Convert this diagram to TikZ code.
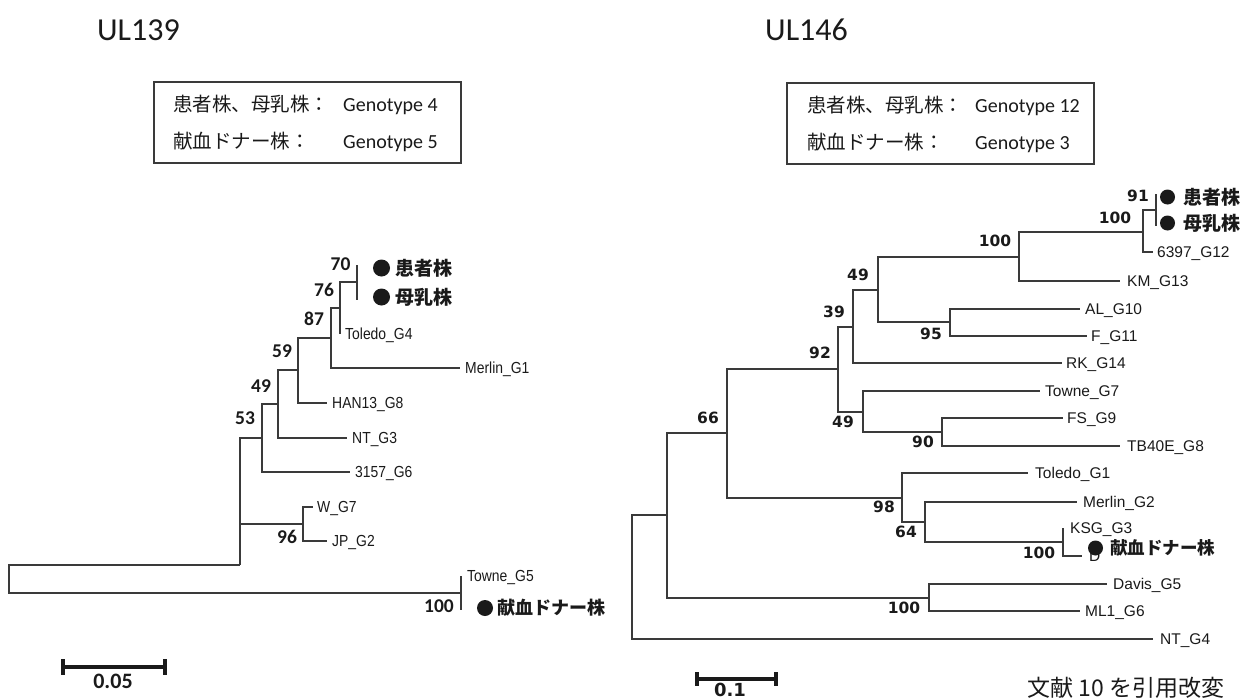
\documentclass[tikz,border=0pt]{standalone}
\usepackage{fontspec}
\setmainfont{Liberation Sans}
\newfontfamily\narrowfont{Liberation Sans}[FakeStretch=0.87]
\newfontfamily\calfont{Carlito}
\newfontfamily\dvsfont{DejaVu Sans}
\newfontfamily\jpfont{Noto Sans CJK JP}
\newcommand\fsz[1]{\fontsize{#1}{#1}\selectfont}
\definecolor{ln}{HTML}{3A3A3A}
\definecolor{tx}{HTML}{1A1A1A}
\tikzset{
  br/.style={draw=ln, line width=1.3pt},
  lleaf/.style={anchor=base west, inner sep=0pt, text=tx, font=\narrowfont\fsz{16}, yshift=-5.7pt},
  rleaf/.style={anchor=base west, inner sep=0pt, text=tx, font=\fsz{15.5}, yshift=-5.5pt},
  bsl/.style={inner sep=0pt, text=tx, font=\calfont\bfseries\fsz{19.5}},
  bsr/.style={inner sep=0pt, text=tx, font=\dvsfont\bfseries\fsz{15.5}},
  jplab/.style={anchor=west, inner sep=0pt, text=tx, font=\jpfont\bfseries\fsz{19}},
  dot/.style={circle, fill=tx, inner sep=0pt},
  boxst/.style={draw=ln, line width=1.2pt, inner sep=0pt},
  boxjp/.style={anchor=base west, inner sep=0pt, text=tx, font=\jpfont\fsz{19.5}},
  boxgt/.style={anchor=base west, inner sep=0pt, text=tx, font=\calfont\fsz{20}},
  sbar/.style={draw=tx, line width=4pt},
  title/.style={anchor=base west, inner sep=0pt, text=tx, font=\calfont\fsz{32}}
}
\begin{document}
\begin{tikzpicture}[x=1pt,y=-1pt]
\useasboundingbox (0,0) rectangle (1250,699);
% titles
\node[title] (tL) at (97,40) {UL139};
\node[title] (tR) at (765,40) {UL146};
% legend boxes
\node[boxst, minimum width=307pt, minimum height=81pt] (boxL) at (307.5,122.5) {};
\node[boxjp] (bL1) at (173,111.5) {患者株、母乳株：};
\node[boxgt] (gL1) at (343,111.5) {Genotype 4};
\node[boxjp] (bL2) at (173,148.5) {献血ドナー株：};
\node[boxgt] (gL2) at (343,148.5) {Genotype 5};
\node[boxst, minimum width=307pt, minimum height=81pt] (boxR) at (940.5,123.5) {};
\node[boxjp] (bR1) at (807,112.5) {患者株、母乳株：};
\node[boxgt] (gR1) at (975,112.5) {Genotype 12};
\node[boxjp] (bR2) at (807,149.5) {献血ドナー株：};
\node[boxgt] (gR2) at (975,149.5) {Genotype 3};

% ---------------- left tree ----------------
\coordinate (L0) at (9,579);
\coordinate (LA) at (240,565);
\coordinate (L53) at (262,438);
\coordinate (L49) at (278,404);
\coordinate (L59) at (298,370);
\coordinate (L87) at (331,338);
\coordinate (L76) at (340,308);
\coordinate (L70) at (357,282);
\coordinate (LWJ) at (303,524);
\coordinate (LT) at (461,593);
\coordinate (lPat) at (357,265);
\coordinate (lMilk) at (357,300);
\coordinate (lTol) at (340,334);
\coordinate (lMer) at (460,368);
\coordinate (lHan) at (327,403);
\coordinate (lNT) at (347,438);
\coordinate (l3157) at (350,472);
\coordinate (lW) at (313,507);
\coordinate (lJP) at (327,541);
\coordinate (lTowne) at (461,576);
\coordinate (lDon) at (461,610);
\path[br] (L0) |- (LA) (L0) |- (LT)
  (LA) |- (L53) (LA) |- (LWJ)
  (L53) |- (L49) (L53) |- (l3157)
  (L49) |- (L59) (L49) |- (lNT)
  (L59) |- (L87) (L59) |- (lHan)
  (L87) |- (L76) (L87) |- (lMer)
  (L76) |- (L70) (L76) |- (lTol)
  (L70) |- (lPat) (L70) |- (lMilk)
  (LWJ) |- (lW) (LWJ) |- (lJP)
  (LT) |- (lTowne) (LT) |- (lDon);
\node[lleaf] (nTolL) at ([xshift=5pt]lTol) {Toledo\_G4};
\node[lleaf] (nMerL) at ([xshift=5pt]lMer) {Merlin\_G1};
\node[lleaf] (nHan) at ([xshift=5pt]lHan) {HAN13\_G8};
\node[lleaf] (nNTL) at ([xshift=5pt]lNT) {NT\_G3};
\node[lleaf] (n3157) at ([xshift=5pt]l3157) {3157\_G6};
\node[lleaf] (nW) at ([xshift=4pt]lW) {W\_G7};
\node[lleaf] (nJP) at ([xshift=5pt]lJP) {JP\_G2};
\node[lleaf] (nTowneL) at ([xshift=6pt]lTowne) {Towne\_G5};
\node[dot, minimum size=17pt] (dPatL) at (381.5,268) {};
\node[jplab] (jPatL) at (395,268) {患者株};
\node[dot, minimum size=17pt] (dMilkL) at (381.5,297) {};
\node[jplab] (jMilkL) at (395,297) {母乳株};
\node[dot, minimum size=16pt] (dDonL) at (485,608) {};
\node[jplab, font=\jpfont\bfseries\fsz{18}] (jDonL) at (497,608) {献血ドナー株};
\node[bsl] at (340.5,264) {70};
\node[bsl] at (324,290) {76};
\node[bsl] at (314,319) {87};
\node[bsl] at (282,351) {59};
\node[bsl] at (261,386) {49};
\node[bsl] at (245,418) {53};
\node[bsl] at (287,537) {96};
\node[bsl] at (439,606) {100};

% ---------------- right tree ----------------
\coordinate (R0) at (632,577);
\coordinate (R1) at (667,515);
\coordinate (R66) at (727,433);
\coordinate (R92) at (838,369);
\coordinate (R39) at (853,327);
\coordinate (R49a) at (878,290);
\coordinate (R100a) at (1019,257);
\coordinate (R100b) at (1143,232);
\coordinate (R91) at (1156,210);
\coordinate (R95) at (950,322);
\coordinate (R49b) at (863,412);
\coordinate (R90) at (942,432);
\coordinate (R98) at (902,498);
\coordinate (R64) at (925,522);
\coordinate (R100c) at (1063,542);
\coordinate (RD) at (929,598);
\coordinate (rPat) at (1156,194);
\coordinate (rMilk) at (1156,226);
\coordinate (r6397) at (1153,252);
\coordinate (rKM) at (1120,281);
\coordinate (rAL) at (1080,309);
\coordinate (rF) at (1087,336);
\coordinate (rRK) at (1062,363);
\coordinate (rTowne) at (1040,391);
\coordinate (rFS) at (1063,418);
\coordinate (rTB) at (1120,446);
\coordinate (rTol) at (1028,473);
\coordinate (rMer) at (1077,502);
\coordinate (rKSG) at (1063,528);
\coordinate (rD) at (1082,556);
\coordinate (rDavis) at (1107,584);
\coordinate (rML) at (1080,611);
\coordinate (rNT) at (1153,639);
\path[br] (R0) |- (R1) (R0) |- (rNT)
  (R1) |- (R66) (R1) |- (RD)
  (R66) |- (R92) (R66) |- (R98)
  (R92) |- (R39) (R92) |- (R49b)
  (R39) |- (R49a) (R39) |- (rRK)
  (R49a) |- (R100a) (R49a) |- (R95)
  (R100a) |- (R100b) (R100a) |- (rKM)
  (R100b) |- (R91) (R100b) |- (r6397)
  (R91) |- (rPat) (R91) |- (rMilk)
  (R95) |- (rAL) (R95) |- (rF)
  (R49b) |- (rTowne) (R49b) |- (R90)
  (R90) |- (rFS) (R90) |- (rTB)
  (R98) |- (rTol) (R98) |- (R64)
  (R64) |- (rMer) (R64) |- (R100c)
  (R100c) |- (rKSG) (R100c) |- (rD)
  (RD) |- (rDavis) (RD) |- (rML);
\node[rleaf] (n6397) at ([xshift=4pt]r6397) {6397\_G12};
\node[rleaf] (nKM) at ([xshift=7pt]rKM) {KM\_G13};
\node[rleaf] (nAL) at ([xshift=5pt]rAL) {AL\_G10};
\node[rleaf] (nF) at ([xshift=4pt]rF) {F\_G11};
\node[rleaf] (nRK) at ([xshift=4pt]rRK) {RK\_G14};
\node[rleaf] (nTowneR) at ([xshift=5pt]rTowne) {Towne\_G7};
\node[rleaf] (nFS) at ([xshift=4pt]rFS) {FS\_G9};
\node[rleaf] (nTB) at ([xshift=7pt]rTB) {TB40E\_G8};
\node[rleaf] (nTolR) at ([xshift=7pt]rTol) {Toledo\_G1};
\node[rleaf] (nMerR) at ([xshift=6pt]rMer) {Merlin\_G2};
\node[rleaf] (nKSG) at ([xshift=7pt]rKSG) {KSG\_G3};
\node[rleaf] (nD) at ([xshift=7pt]rD) {D};
\node[rleaf] (nDavis) at ([xshift=6pt]rDavis) {Davis\_G5};
\node[rleaf] (nML) at ([xshift=5pt]rML) {ML1\_G6};
\node[rleaf] (nNTR) at ([xshift=7pt]rNT) {NT\_G4};
\node[dot, minimum size=15pt] (dPatR) at (1167.5,197) {};
\node[jplab] (jPatR) at (1183,197) {患者株};
\node[dot, minimum size=15pt] (dMilkR) at (1167.5,223) {};
\node[jplab] (jMilkR) at (1183,223) {母乳株};
\node[dot, minimum size=15pt] (dDonR) at (1095.5,548) {};
\node[jplab, font=\jpfont\bfseries\fsz{17.5}] (jDonR) at (1110,548) {献血ドナー株};
\node[bsr] at (1138,196) {91};
\node[bsr] at (1115,218) {100};
\node[bsr] at (995,241) {100};
\node[bsr] at (858,275) {49};
\node[bsr] at (834,312) {39};
\node[bsr] at (820,353) {92};
\node[bsr] at (931,334) {95};
\node[bsr] at (843,422) {49};
\node[bsr] at (923,442) {90};
\node[bsr] at (708,418) {66};
\node[bsr] at (884,507) {98};
\node[bsr] at (906,532) {64};
\node[bsr] at (1039,553) {100};
\node[bsr] at (904,608) {100};

% ---------------- scale bars ----------------
\coordinate (sL1) at (63,667);
\coordinate (sL2) at (165,667);
\path[sbar] (sL1) -- (sL2);
\path[sbar] ([yshift=8pt]sL1) -- ([yshift=-8pt]sL1);
\path[sbar] ([yshift=8pt]sL2) -- ([yshift=-8pt]sL2);
\node[inner sep=0pt, text=tx, font=\calfont\bfseries\fsz{22}] (vL) at (113,681) {0.05};
\coordinate (sR1) at (697,679);
\coordinate (sR2) at (776,679);
\path[sbar] (sR1) -- (sR2);
\path[sbar] ([yshift=7pt]sR1) -- ([yshift=-7pt]sR1);
\path[sbar] ([yshift=7pt]sR2) -- ([yshift=-7pt]sR2);
\node[anchor=base, inner sep=0pt, text=tx, font=\dvsfont\bfseries\fsz{18}] (vR) at (730,696) {0.1};
\node[anchor=base west, inner sep=0pt, text=tx, font=\jpfont\fsz{23}] (cite) at (1027,696) {文献 10 を引用改変};
\end{tikzpicture}
\end{document}
